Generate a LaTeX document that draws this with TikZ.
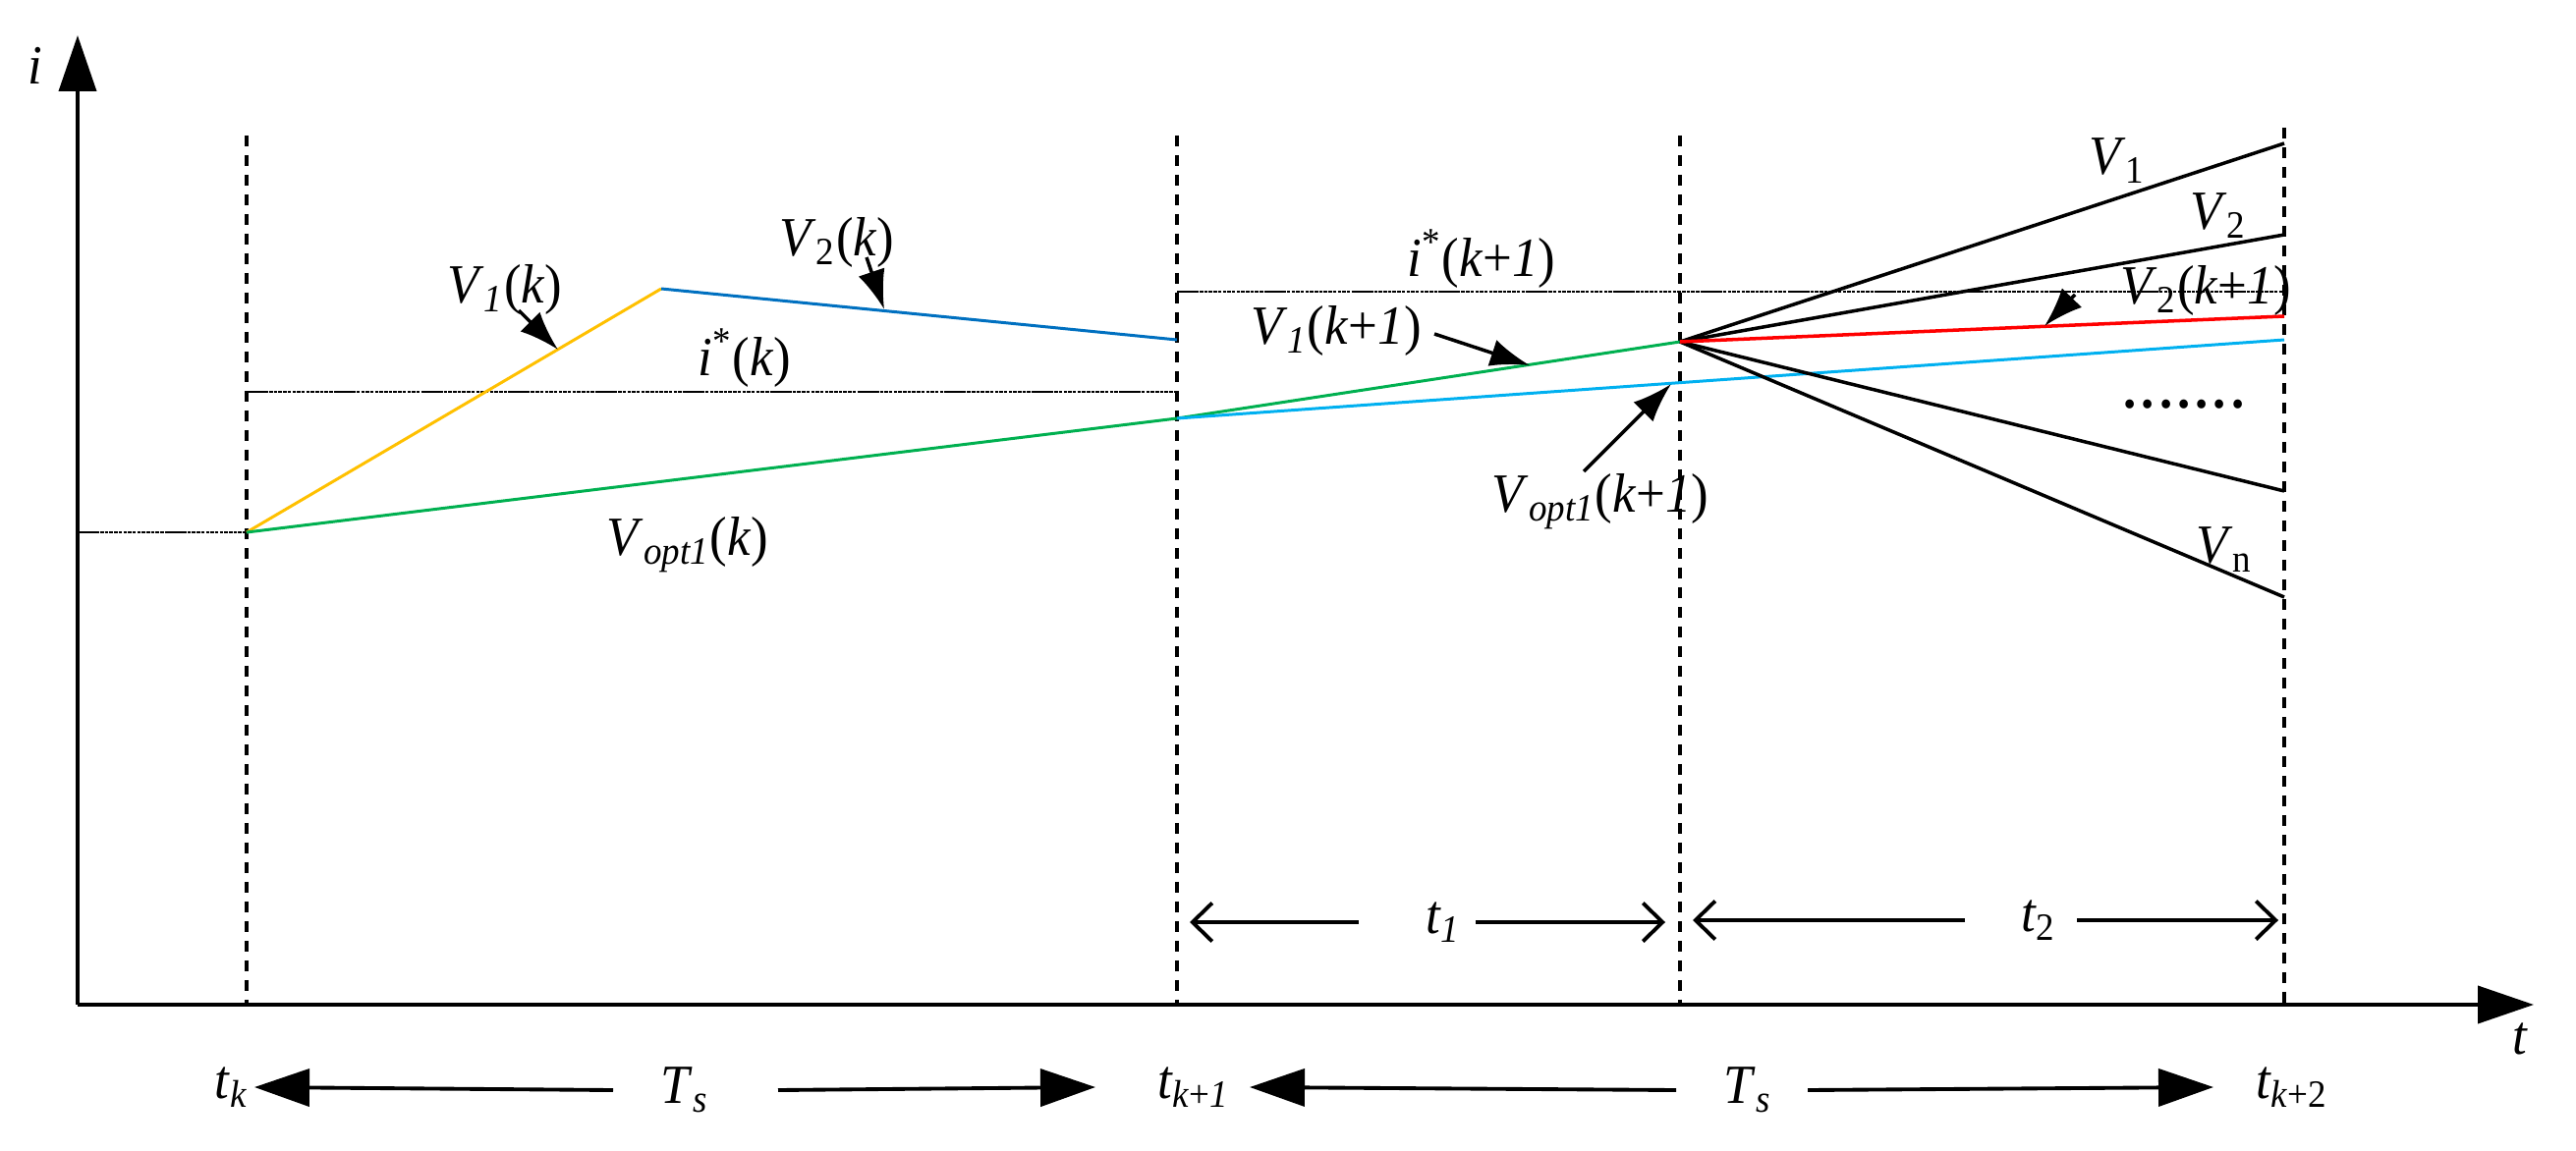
\documentclass[tikz,border=0pt]{standalone}
\usepackage{fontspec}
\setmainfont{Liberation Serif}[FakeStretch = 0.94]
\usepackage{xcolor}
\usetikzlibrary{arrows.meta, positioning, calc}
\definecolor{cyellow}{HTML}{FFC000}
\definecolor{cblue}{HTML}{0070C0}
\definecolor{cgreen}{HTML}{00B050}
\definecolor{ccyan}{HTML}{00B0F0}
\definecolor{cred}{HTML}{FF0000}
\newcommand{\ital}[1]{\textit{#1}}

\begin{document}
\begin{tikzpicture}[
    x = 0.1mm, y = -0.1mm,
    font = \fontsize{16}{19}\selectfont,
    axis/.style = {line width = 1.1pt, -{Triangle[length = 5.7mm, width = 3.8mm]}},
    period/.style = {line width = 0.95pt, dash pattern = on 1.15mm off 0.85mm},
    reference/.style = {line width = 0.6pt, dash pattern = on 2.2mm off 0.1mm
        on 0.35mm off 0.12mm on 0.35mm off 0.12mm on 0.35mm off 0.12mm on 0.35mm off 0.12mm
        on 0.35mm off 0.12mm on 0.35mm off 0.12mm on 0.35mm off 0.12mm on 0.35mm off 0.12mm
        on 0.35mm off 0.12mm on 0.35mm off 0.12mm on 0.35mm off 0.12mm on 0.35mm off 0.12mm
        on 0.35mm off 0.12mm on 0.35mm off 0.12mm},
    traj/.style = {line width = 0.85pt},
    vector/.style = {line width = 1pt},
    pointer/.style = {line width = 1pt, -{Latex[length = 4mm, width = 2.8mm]}},
    span/.style = {line width = 1.1pt, -{Triangle[length = 5.6mm, width = 3.8mm]}},
    interval/.style = {line width = 1.1pt, -{Straight Barb[length = 2mm, width = 3.9mm]}},
    tag/.style = {inner sep = 1pt},
    ]
    \useasboundingbox (0,0) rectangle (2622,1171);

    % draw axes
    \coordinate (O)    at (79,1023);
    \coordinate (itop) at (79,36);
    \coordinate (tend) at (2579,1023);
    \draw [axis] (O) -- (itop);
    \draw [axis] (O) -- (tend);
    \node [tag] (ilabel) at (36,67)    {\ital{i}};
    \node [tag] (tlabel) at (2565,1058) {\ital{t}};

    % draw sampling instants
    \foreach \x/\y/\n in {251/138/k, 1198/138/k1, 1710/138/m, 2325/130/k2} {
        \coordinate (top-\n) at (\x,\y);
        \coordinate (bot-\n) at (\x,1023);
        \draw [period] (top-\n) -- (bot-\n);
    }

    % draw references
    \coordinate (A)     at (251,542);
    \coordinate (ik-l)  at (251,399);
    \coordinate (ik-r)  at (1198,399);
    \coordinate (ik1-l) at (1198,297);
    \coordinate (ik1-r) at (2325,297);
    \draw [reference] (O |- A) -- (A);
    \draw [reference] (ik-l) -- (ik-r);
    \draw [reference] (ik1-l) -- (ik1-r);

    % draw current trajectories
    \coordinate (B) at (673,294);
    \coordinate (C) at (1198,346);
    \coordinate (D) at (1198,426);
    \coordinate (E) at (1710,348);
    \coordinate (F) at (2325,346);
    \draw [traj, cyellow] (A) -- (B);
    \draw [traj, cblue]   (B) -- (C);
    \draw [traj, cgreen]  (A) -- (D) -- (E);
    \draw [traj, ccyan]   (D) -- (F);

    % draw candidate vectors
    \coordinate (v1) at (2325,146);
    \coordinate (v2) at (2325,239);
    \coordinate (v3) at (2325,322);
    \coordinate (v4) at (2325,500);
    \coordinate (vn) at (2325,608);
    \foreach \e in {v1, v2, v4, vn}
        \draw [vector] (E) -- (\e);
    \draw [traj, cred, line width = 1pt] (E) -- (v3);

    % labels
    \node [tag] (V1k)    at (514,295)  {\ital{V}\textsubscript{\ital{1}}(\ital{k})};
    \node [tag] (V2k)    at (852,247)  {\ital{V}\textsubscript{2}(\ital{k})};
    \node [tag] (istark) at (758,365)  {\ital{i}\textsuperscript{*}(\ital{k})};
    \node [tag] (Vopt1k) at (700,555)  {\ital{V}\textsubscript{\ital{opt1}}(\ital{k})};
    \node [tag] (istark1) at (1508,264) {\ital{i}\textsuperscript{*}(\ital{k}+\ital{1})};
    \node [tag] (V1k1)   at (1360,337) {\ital{V}\textsubscript{\ital{1}}(\ital{k}+\ital{1})};
    \node [tag] (Vopt1k1) at (1629,511) {\ital{V}\textsubscript{\ital{opt1}}(\ital{k}+\ital{1})};
    \node [tag] (V1)     at (2155,164) {\ital{V}\textsubscript{1}};
    \node [tag] (V2)     at (2258,220) {\ital{V}\textsubscript{2}};
    \node [tag] (V2k1)   at (2245,296) {\ital{V}\textsubscript{2}(\ital{k}+\ital{1})};
    \node [tag] (Vn)     at (2264,560) {\ital{V}\textsubscript{n}};
    \node [tag] (dots)   at (2223,412) {\textbf{.\kern.5mm.\kern.5mm.\kern.5mm.\kern.5mm.\kern.5mm.\kern.5mm.}};

    % draw pointers
    \coordinate (p-V1k)     at (528,316);
    \coordinate (q-V1k)     at (568,356);
    \coordinate (p-V2k)     at (882,262);
    \coordinate (q-V2k)     at (900,315);
    \coordinate (p-V1k1)    at (1460,340);
    \coordinate (q-V1k1)    at (1557,372);
    \coordinate (p-Vopt1k1) at (1612,480);
    \coordinate (q-Vopt1k1) at (1701,391);
    \coordinate (p-V2k1)    at (2112,300);
    \coordinate (q-V2k1)    at (2081,332);
    \foreach \n in {V1k, V2k, V1k1, Vopt1k1, V2k1}
        \draw [pointer] (p-\n) -- (q-\n);

    % draw intervals
    \node [tag] (t1) at (1469,939) {\ital{t}\textsubscript{\ital{1}}};
    \node [tag] (t2) at (2075,937) {\ital{t}\textsubscript{2}};
    \draw [interval] ([xshift=-8.6mm]t1.center) -- ([xshift=1.3mm]t1 -| bot-k1);
    \draw [interval] ([xshift=3.3mm]t1.center)  -- ([xshift=-1.5mm]t1 -| bot-m);
    \draw [interval] ([xshift=-7.5mm]t2.center) -- ([xshift=1.3mm]t2 -| bot-m);
    \draw [interval] ([xshift=3.9mm]t2.center)  -- ([xshift=-0.6mm]t2 -| bot-k2);

    % draw sampling periods
    \node [tag] (tk)  at (236,1107)  {\ital{t}\textsubscript{\ital{k}}};
    \node [tag] (Ts1) at (697,1110)  {\ital{T}\textsubscript{\ital{s}}};
    \node [tag] (tk1) at (1215,1107) {\ital{t}\textsubscript{\ital{k}+\ital{1}}};
    \node [tag] (Ts2) at (1779,1110) {\ital{T}\textsubscript{\ital{s}}};
    \node [tag] (tk2) at (2333,1107) {\ital{t}\textsubscript{\ital{k}+2}};
    \draw [span] ([xshift=-7.3mm]Ts1.center) -- ([xshift=2.3mm]tk.center);
    \draw [span] ([xshift=9.5mm]Ts1.center)  -- ([xshift=-10mm]tk1.center);
    \draw [span] ([xshift=-7.3mm]Ts2.center) -- ([xshift=5.7mm]tk1.center);
    \draw [span] ([xshift=6.1mm]Ts2.center)  -- ([xshift=-8mm]tk2.center);
\end{tikzpicture}
\end{document}
